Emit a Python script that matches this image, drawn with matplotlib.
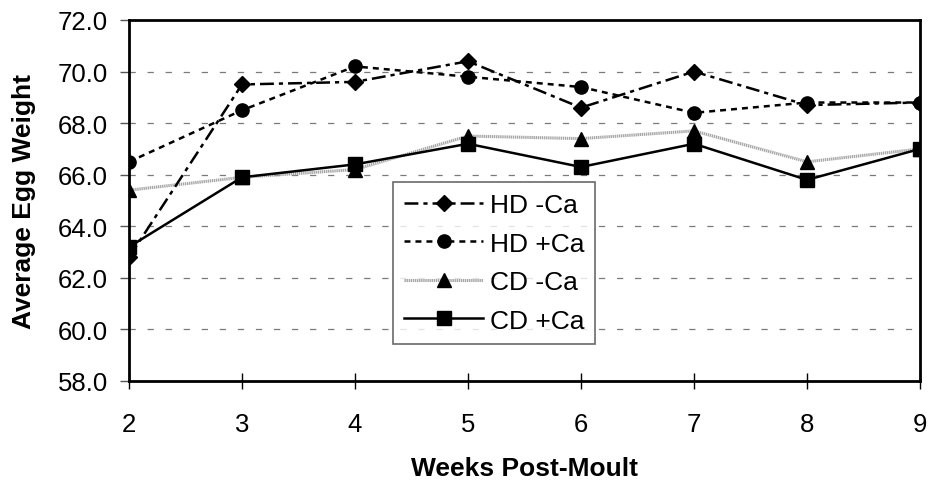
import numpy as np
import matplotlib.pyplot as plt

plt.rcParams['font.family'] = ['Liberation Sans', 'DejaVu Sans']
plt.rcParams['lines.scale_dashes'] = False

weeks = [2, 3, 4, 5, 6, 7, 8, 9]
hd_minus = [62.8, 69.5, 69.6, 70.4, 68.6, 70.0, 68.7, 68.8]
hd_plus = [66.5, 68.5, 70.2, 69.8, 69.4, 68.4, 68.8, 68.8]
cd_minus = [65.4, 65.9, 66.2, 67.5, 67.4, 67.7, 66.5, 67.0]
cd_plus = [63.2, 65.9, 66.4, 67.2, 66.3, 67.2, 65.8, 67.0]
yticks = np.arange(58, 72.1, 2)

fig = plt.figure(figsize=(9.31, 4.85), dpi=100)
ax = fig.add_axes([129/931, 1-382/485, (920-129)/931, (382-21)/485])

ax.plot(weeks, cd_minus, color='#a6a6a6', lw=2.2, ls=(0, (1, 0.5)), marker='^',
        ms=9.5, mfc='black', mec='black', label='CD -Ca', zorder=3)
ax.plot(weeks, cd_plus, color='black', lw=1.8, ls='-', marker='s',
        ms=9.5, mfc='black', mec='black', label='CD +Ca', zorder=4)
ax.plot(weeks, hd_plus, color='black', lw=1.8, ls=(0, (4.3, 3.6)), marker='o',
        ms=9.5, mfc='black', mec='black', label='HD +Ca', zorder=5)
ax.plot(weeks, hd_minus, color='black', lw=1.8, ls=(0, (10, 3.6, 3, 3.6)), marker='D',
        ms=8.5, mfc='black', mec='black', label='HD -Ca', zorder=6)

ax.set_xlim(2, 9)
ax.set_ylim(58, 72)
ax.set_xticks(weeks)
ax.set_yticks(yticks)
ax.set_yticklabels(['%.1f' % v for v in yticks])
for v in yticks[1:-1]:
    ax.axhline(v, color='#7a7a7a', lw=0.9, ls=(0, (4.5, 8.5)), zorder=1)

for s in ax.spines.values():
    s.set_linewidth(2)
    s.set_color('black')
ax.tick_params(axis='y', direction='out', length=6.5, width=1, labelsize=18.5, pad=8.5, color='#555555')
ax.tick_params(axis='x', direction='inout', length=12, width=1, labelsize=18.5, pad=16.5)

ax.set_xlabel('Weeks Post-Moult', fontsize=19, fontweight='bold', labelpad=14)
ax.set_ylabel('Average Egg Weight', fontsize=19, fontweight='bold', labelpad=16)

handles, labels = ax.get_legend_handles_labels()
order = [3, 2, 0, 1]
leg = ax.legend([handles[i] for i in order], [labels[i] for i in order],
                loc='upper left', bbox_to_anchor=((393-129)/791, (382-183)/361),
                fontsize=19, frameon=True, fancybox=False, edgecolor='#444444',
                handlelength=3.0, labelspacing=0.55, borderpad=0.42,
                handletextpad=0.25, borderaxespad=0)
leg.get_frame().set_linewidth(1.2)
leg.set_zorder(10)

plt.savefig('out.png', dpi=100)
